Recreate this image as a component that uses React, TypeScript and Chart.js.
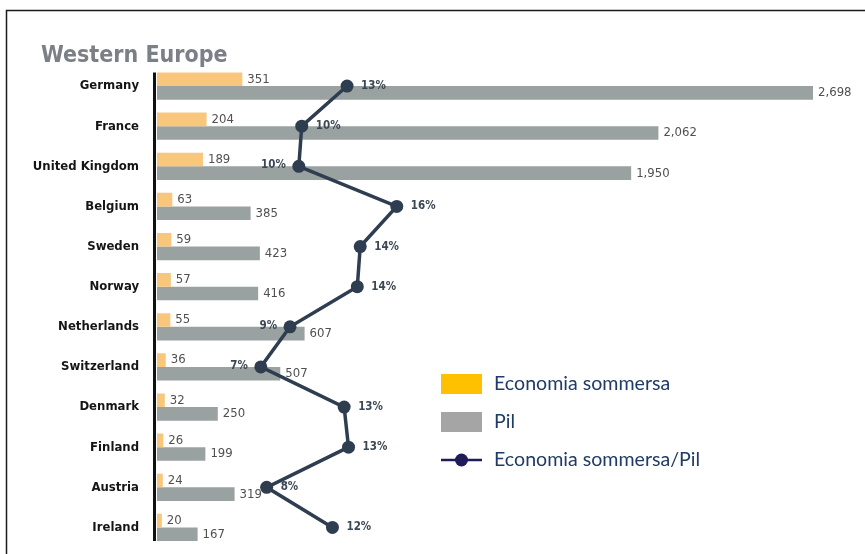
import React, { useEffect, useRef } from 'react';
import { Chart, registerables } from 'chart.js';

Chart.register(...registerables);

// ---- data ----
const chartTitle = 'Western Europe';
const countries = [
  'Germany', 'France', 'United Kingdom', 'Belgium', 'Sweden', 'Norway',
  'Netherlands', 'Switzerland', 'Denmark', 'Finland', 'Austria', 'Ireland',
];
const shadowEconomy = [351, 204, 189, 63, 59, 57, 55, 36, 32, 26, 24, 20];
const gdp = [2698, 2062, 1950, 385, 423, 416, 607, 507, 250, 199, 319, 167];
const shadowToGdp = [13.0, 9.9, 9.7, 16.4, 13.9, 13.7, 9.1, 7.1, 12.8, 13.1, 7.5, 12.0];
const shadowToGdpLabels = ['13%', '10%', '10%', '16%', '14%', '14%', '9%', '7%', '13%', '13%', '8%', '12%'];
const legendLabels = ['Economia sommersa', 'Pil', 'Economia sommersa/Pil'];

// label placement (not data)
const pctLabelSide = ['r', 'r', 'l', 'r', 'r', 'r', 'l', 'l', 'r', 'r', 'r', 'r'];

const NARROW = '"DejaVu Sans Condensed", "Liberation Sans Narrow", Roboto, sans-serif';
const COL_YELLOW = '#F8C77B';
const COL_GRAY = '#9AA2A1';
const COL_LINE = '#2E3E50';

const overlayPlugin = {
  id: 'overlay',
  beforeDatasetsDraw(chart: any) {
    const ctx = chart.ctx;
    const m0 = chart.getDatasetMeta(0);
    const m1 = chart.getDatasetMeta(1);
    const first = m0.data[0];
    const last = m1.data[m1.data.length - 1];
    const top = first.y - first.height / 2;
    const bottom = last.y + last.height / 2;
    ctx.save();
    ctx.strokeStyle = '#111';
    ctx.lineWidth = 3;
    ctx.beginPath();
    ctx.moveTo(chart.chartArea.left - 2.5, top);
    ctx.lineTo(chart.chartArea.left - 2.5, bottom);
    ctx.stroke();
    ctx.restore();
  },
  afterDatasetDraw(chart: any, args: any) {
    if (args.index > 1) return;
    const values = args.index === 0 ? shadowEconomy : gdp;
    const ctx = chart.ctx;
    ctx.save();
    ctx.font = '13px ' + NARROW;
    ctx.fillStyle = '#505050';
    ctx.textAlign = 'left';
    ctx.textBaseline = 'middle';
    args.meta.data.forEach((bar: any, i: number) => {
      ctx.fillText(values[i].toLocaleString('en-US'), bar.x + 5, bar.y);
    });
    ctx.restore();
  },
  afterDatasetsDraw(chart: any) {
    const ctx = chart.ctx;
    const meta = chart.getDatasetMeta(2);
    ctx.save();
    ctx.font = 'bold 11.5px ' + NARROW;
    ctx.fillStyle = '#3B4754';
    ctx.textBaseline = 'middle';
    meta.data.forEach((pt: any, i: number) => {
      if (pctLabelSide[i] === 'l') {
        ctx.textAlign = 'right';
        ctx.fillText(shadowToGdpLabels[i], pt.x - 13, pt.y - 1);
      } else {
        ctx.textAlign = 'left';
        ctx.fillText(shadowToGdpLabels[i], pt.x + 14, pt.y);
      }
    });
    ctx.restore();
  },
  afterDraw(chart: any) {
    const ctx = chart.ctx;
    ctx.save();
    // frame
    ctx.strokeStyle = '#1a1a1a';
    ctx.lineWidth = 1.5;
    ctx.beginPath();
    ctx.moveTo(6.5, 560);
    ctx.lineTo(6.5, 10.5);
    ctx.lineTo(870, 10.5);
    ctx.stroke();
    // title
    ctx.font = 'bold 23px ' + NARROW;
    ctx.fillStyle = '#7B8087';
    ctx.textAlign = 'left';
    ctx.textBaseline = 'alphabetic';
    ctx.fillText(chartTitle, 41, 61.5);
    // legend
    const lx = 441;
    ctx.fillStyle = '#FFC000';
    ctx.fillRect(lx, 374, 41, 20);
    ctx.fillStyle = '#A5A5A5';
    ctx.fillRect(lx, 412, 41, 20);
    ctx.strokeStyle = '#1F1C5C';
    ctx.lineWidth = 2.5;
    ctx.beginPath();
    ctx.moveTo(lx, 460);
    ctx.lineTo(lx + 41, 460);
    ctx.stroke();
    ctx.fillStyle = '#1F1C5C';
    ctx.beginPath();
    ctx.arc(lx + 20.5, 460, 6.5, 0, Math.PI * 2);
    ctx.fill();
    ctx.font = '19.6px Lato, "Open Sans", sans-serif';
    ctx.fillStyle = '#203B66';
    ctx.textBaseline = 'middle';
    ctx.fillText(legendLabels[0], 494, 384);
    ctx.fillText(legendLabels[1], 494, 422);
    ctx.fillText(legendLabels[2], 494, 460);
    ctx.restore();
  },
};

export default function App() {
  const ref = useRef<HTMLCanvasElement>(null);
  useEffect(() => {
    if (!ref.current) return;
    const chart = new Chart(ref.current, {
      type: 'bar',
      data: {
        labels: countries,
        datasets: [
          {
            label: legendLabels[0],
            data: shadowEconomy,
            backgroundColor: COL_YELLOW,
            xAxisID: 'x',
            yAxisID: 'y',
            categoryPercentage: 0.68,
            barPercentage: 1,
            order: 1,
          },
          {
            label: legendLabels[1],
            data: gdp,
            backgroundColor: COL_GRAY,
            xAxisID: 'x',
            yAxisID: 'y',
            categoryPercentage: 0.68,
            barPercentage: 1,
            order: 1,
          },
          {
            type: 'line',
            label: legendLabels[2],
            data: shadowToGdp,
            indexAxis: 'y',
            xAxisID: 'x2',
            yAxisID: 'y',
            borderColor: COL_LINE,
            backgroundColor: COL_LINE,
            borderWidth: 3.5,
            pointRadius: 6.5,
            pointBorderWidth: 0,
            pointBackgroundColor: COL_LINE,
            tension: 0,
            clip: false,
            order: 0,
          } as any,
        ],
      },
      options: {
        indexAxis: 'y',
        animation: false,
        responsive: false,
        layout: { padding: { top: 66, bottom: 6, left: 0, right: 15 } },
        plugins: {
          legend: { display: false },
          tooltip: { enabled: false },
          title: { display: false },
        },
        scales: {
          x: { type: 'linear', display: false, min: 0, max: 2850 },
          x2: { type: 'linear', display: false, min: 0, max: 47.4 },
          y: {
            type: 'category',
            position: 'left',
            grid: { display: false, drawTicks: false },
            border: { display: false },
            ticks: {
              padding: 18,
              color: '#151515',
              font: { family: NARROW, size: 13, weight: 'bold' },
            },
            afterFit(scale: any) {
              scale.width = 157;
              scale.paddingTop = 0;
              scale.paddingBottom = 0;
            },
          },
        },
      },
      plugins: [overlayPlugin],
    } as any);
    return () => chart.destroy();
  }, []);

  return (
    <div style={{ position: 'absolute', left: 0, top: 0, width: 865, height: 554, background: '#fff' }}>
      <canvas ref={ref} width={865} height={554} style={{ display: 'block' }} />
    </div>
  );
}
